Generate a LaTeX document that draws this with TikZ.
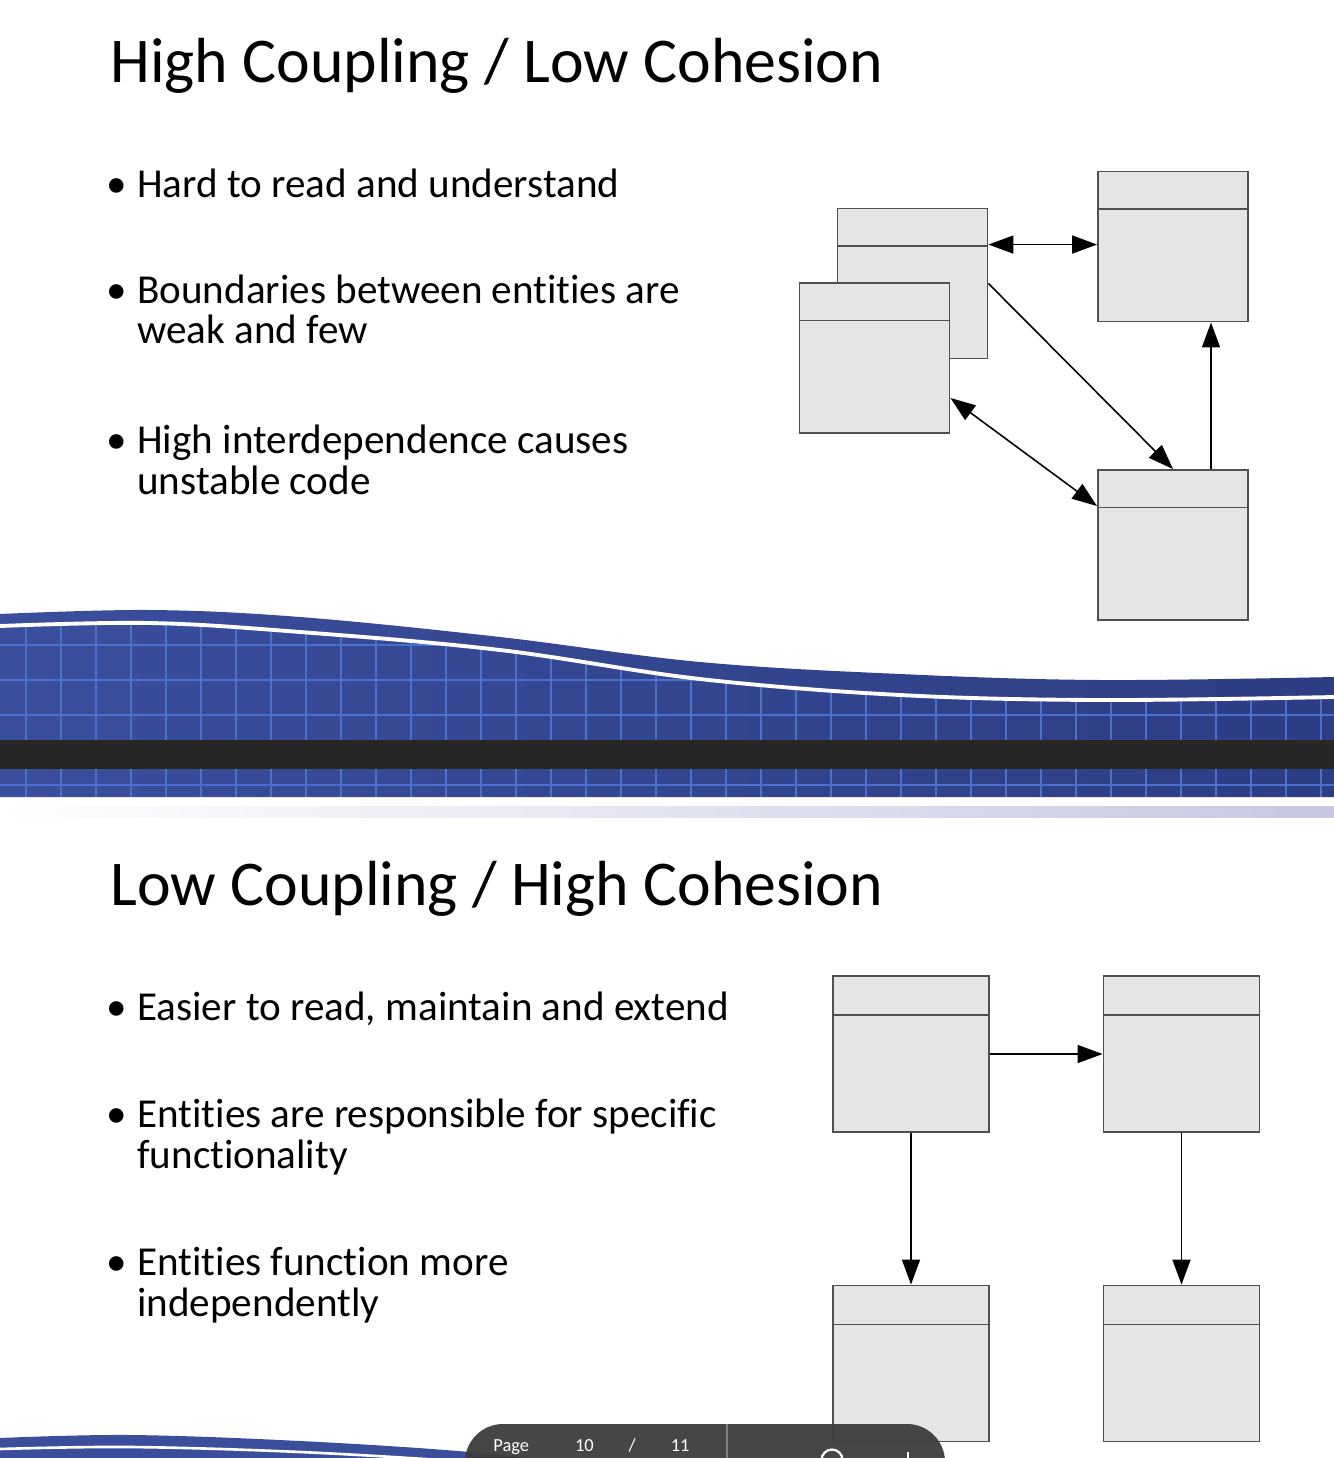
\documentclass[tikz,border=0pt]{standalone}
\usepackage{fontspec}
\setmainfont{Carlito}[Ligatures=NoCommon]
\usetikzlibrary{arrows.meta, positioning, calc}
\definecolor{bandBlue}{HTML}{3B4E9C}
\definecolor{bandBlueDark}{HTML}{2D3D84}
\definecolor{gridBlue}{HTML}{4A72CB}
\definecolor{bandDark}{HTML}{272727}
\definecolor{boxFill}{HTML}{E5E5E5}
\definecolor{boxEdge}{HTML}{505050}
\definecolor{pillGray}{HTML}{3D3D3D}
\definecolor{stripLav}{HTML}{C6C8E2}

\newcommand{\twoline}[2]{\vtop{\baselineskip=0.82cm\hbox{#1}\hbox{#2}}}

\begin{document}
\begin{tikzpicture}[x=0.02cm, y=-0.02cm,
    slidetitle/.style={anchor=base west, inner sep=0pt, font=\fontsize{36.3}{44}\selectfont},
    item/.style={anchor=base west, inner sep=0pt, font=\fontsize{23.4}{28}\selectfont},
    entity/.style={rectangle, draw=boxEdge, fill=boxFill, line width=1.1pt,
                   minimum size=#1, inner sep=0pt,
                   path picture={\draw[boxEdge, line width=1.1pt]
                     ($(path picture bounding box.north west)!0.25!(path picture bounding box.south west)$) --
                     ($(path picture bounding box.north east)!0.25!(path picture bounding box.south east)$);}},
    link/.style={line width=0.9pt, -{Triangle[length=0.5cm, width=0.36cm]}},
    mutual/.style={line width=0.9pt, {Triangle[length=0.5cm, width=0.36cm]}-{Triangle[length=0.5cm, width=0.36cm]}},
    swoosh/.style={white, line width=2.2pt},
  ]
  \useasboundingbox (0,0) rectangle (1334,1458);
  \begin{scope}
  \clip (0,0) rectangle (1334,1458);
  \fill[white] (0,0) rectangle (1334,1458);

  % slide 1 band
  \shade[left color=bandBlue, right color=bandBlueDark]
    plot[smooth, tension=0.6] coordinates {(0,614) (150,610) (300,617) (500,637) (700,662) (900,674) (1100,680) (1334,677)}
    -- (1334,797) -- (0,797) -- cycle;
  \begin{scope}
    \clip plot[smooth, tension=0.6] coordinates {(0,626) (150,623) (300,632) (500,650) (700,679) (900,695) (1100,700) (1334,697)}
      -- (1334,797) -- (0,797) -- cycle;
    \foreach \gx in {26,61,...,1334}
      \draw[gridBlue, line width=0.6pt] (\gx,600) -- (\gx,797);
    \foreach \gx in {131,306,...,1334}
      \draw[gridBlue, line width=1.2pt] (\gx,600) -- (\gx,797);
    \foreach \gy in {645,680,715,785}
      \draw[gridBlue, line width=1pt] (0,\gy) -- (1334,\gy);
  \end{scope}
  \draw[swoosh] plot[smooth, tension=0.6] coordinates {(0,626) (150,623) (300,632) (500,650) (700,679) (900,695) (1100,700) (1334,697)};
  \fill[bandDark] (0,740) rectangle (1334,769);
  \shade[left color=white, right color=stripLav] (0,806) rectangle (1334,817);

  % slide 2 band
  \fill[bandBlue] plot[smooth, tension=0.6] coordinates {(0,1438) (130,1435) (300,1441) (470,1452) (620,1468)}
    -- (620,1480) -- (0,1480) -- cycle;
  \draw[swoosh, line width=1.5pt] plot[smooth, tension=0.6] coordinates {(0,1449) (130,1447) (300,1452) (470,1462) (560,1470)};

  % titles and bullets
  \node[slidetitle] (title1) at (110,82) {High Coupling / Low Cohesion};
  \node[slidetitle] (title2) at (110,905) {Low Coupling / High Cohesion};

  \foreach \by in {197,303,453,1020,1127,1275}
    \node[item] at (106,\by) {\textbullet};
  \node[item] (hc1) at (137,197) {Hard to read and understand};
  \node[item] (hc2) at (137,303) {\twoline{Boundaries between entities are}{weak and few}};
  \node[item] (hc3) at (137,453) {\twoline{High interdependence causes}{unstable code}};
  \node[item] (lc1) at (137,1020) {Easier to read, maintain and extend};
  \node[item] (lc2) at (137,1127) {\twoline{Entities are responsible for specific}{functionality}};
  \node[item] (lc3) at (137,1275) {\twoline{Entities function more}{independently}};

  % high coupling diagram
  \node[entity=3cm] (A) at (912.5,283.5) {};
  \node[entity=3cm] (B) at (874.5,358) {};
  \node[entity=3cm] (C) at (1173,246.5) {};
  \node[entity=3cm] (D) at (1173,545) {};
  \draw[mutual] ([yshift=-0.74cm]A.north east) -- ([yshift=-0.74cm]A.north east -| C.west);
  \draw[link] (A.east) -- (D.north);
  \draw[mutual] ([yshift=0.72cm]B.south east) -- ([yshift=-0.74cm]D.north west);
  \draw[link] ([xshift=0.76cm]D.north) -- ([xshift=0.76cm]C.south);

  % low coupling diagram
  \node[entity=3.12cm] (E) at (911,1054) {};
  \node[entity=3.12cm] (F) at (1181.5,1054) {};
  \node[entity=3.12cm] (G) at (911,1363.5) {};
  \node[entity=3.12cm] (H) at (1181.5,1363.5) {};
  \draw[link] (E.east) -- (F.west);
  \draw[link] (E.south) -- (G.north);
  \draw[link] (F.south) -- (H.north);

  % viewer bar
  \fill[pillGray, fill opacity=0.95, rounded corners=0.76cm] (465,1424) rectangle (945,1530);
  \draw[gray, line width=0.8pt] (727,1424) -- (727,1458);
  \node[anchor=base west, inner sep=0pt, text=white, font=\fontsize{10.5}{12}\selectfont] (pagelabel)
    at (493,1451) {Page\hspace{0.92cm}10\hspace{0.7cm}/\hspace{0.7cm}11};
  \draw[white, line width=1.3pt] (832,1460) circle (0.21cm);
  \draw[white, line width=1.3pt] (908,1452) -- (908,1470);
  \end{scope}
\end{tikzpicture}
\end{document}
